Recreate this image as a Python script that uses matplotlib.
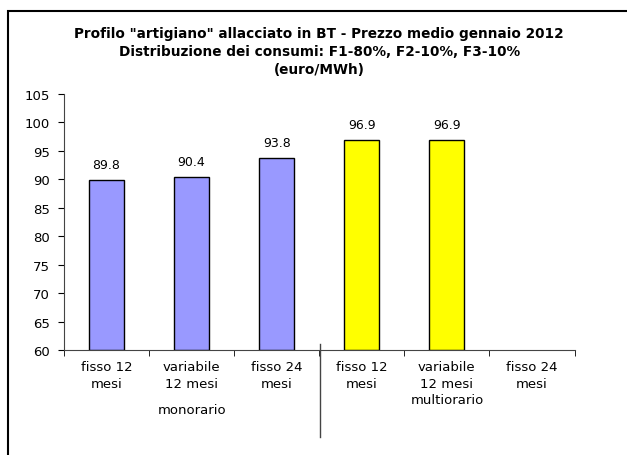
import matplotlib
matplotlib.use("Agg")
import matplotlib.pyplot as plt
import numpy as np
from matplotlib.patches import Rectangle
from matplotlib.lines import Line2D

categories = ["fisso 12\nmesi", "variabile\n12 mesi", "fisso 24\nmesi",
              "fisso 12\nmesi", "variabile\n12 mesi", "fisso 24\nmesi"]
values = [89.8, 90.4, 93.8, 96.9, 96.9, None]
colors = ["#9999FF", "#9999FF", "#9999FF", "#FFFF00", "#FFFF00", "#FFFF00"]
groups = ["monorario", "multiorario"]
title = ('Profilo "artigiano" allacciato in BT - Prezzo medio gennaio 2012\n'
         'Distribuzione dei consumi: F1-80%, F2-10%, F3-10%\n(euro/MWh)')

W, H = 627, 456
fig = plt.figure(figsize=(W / 100, H / 100), dpi=100)
plt.rcParams['font.family'] = ['DejaVu Sans']

# outer border
fig.patches.append(Rectangle((8 / W, -0.05), 1.2, 1 - 12 / H + 0.05,
                             transform=fig.transFigure, fill=False,
                             edgecolor="black", linewidth=1.5))

ax = fig.add_axes([64 / W, 1 - 351 / H, (574.5 - 64) / W, (351 - 95) / H])
x = np.arange(len(categories))
for xi, v, c in zip(x, values, colors):
    if v is None:
        continue
    ax.bar(xi, v - 60, bottom=60, width=0.41, color=c, edgecolor="black", linewidth=1)
    ax.text(xi, v + 1.6, f"{v:.1f}", ha="center", va="bottom", fontsize=9)

ax.set_xlim(-0.5, len(categories) - 0.5)
ax.set_ylim(60, 105)
ax.set_yticks(np.arange(60, 106, 5))
ax.tick_params(axis="y", labelsize=9.5, length=4, direction="out", pad=6)
ax.set_xticks(x)
ax.set_xticklabels(categories, fontsize=9.5, linespacing=1.4)
ax.tick_params(axis="x", length=0, pad=7)
ax.set_xticks(np.arange(-0.5, len(categories), 1), minor=True)
ax.tick_params(axis="x", which="minor", length=4, direction="out")
for s in ["top", "right"]:
    ax.spines[s].set_visible(False)
for s in ["left", "bottom"]:
    ax.spines[s].set_color("#444444")

fig.text(0.5 * (64 + 574.5) / W, 1 - 52 / H, title, ha="center", va="center",
         fontsize=9.8, fontweight="bold", linespacing=1.4)

# group labels & separator
fig.text((64 + 319.5) / 2 / W, 1 - 411 / H, groups[0], ha="center", va="center", fontsize=9.5)
fig.text((319.5 + 574.5) / 2 / W, 1 - 401 / H, groups[1], ha="center", va="center", fontsize=9.5)
fig.lines.append(Line2D([320 / W, 320 / W], [1 - 345 / H, 1 - 438 / H],
                        transform=fig.transFigure, color="#444444", linewidth=1))

fig.savefig("out.png", dpi=100)
